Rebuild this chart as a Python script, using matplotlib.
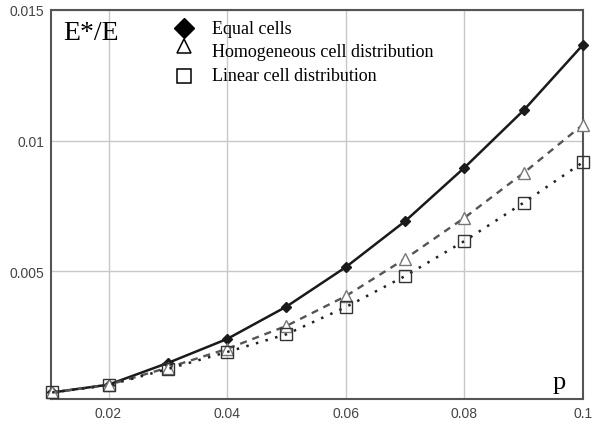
import matplotlib
matplotlib.use("Agg")
import matplotlib.pyplot as plt

p = [0.0105, 0.02, 0.03, 0.04, 0.05, 0.06, 0.07, 0.08, 0.09, 0.1]
equal_cells = [0.00035, 0.00065, 0.00148, 0.0024, 0.00364, 0.00515, 0.00691, 0.00896, 0.01116, 0.01367]
homogeneous = [0.00035, 0.00064, 0.0013, 0.00202, 0.0029, 0.00404, 0.00547, 0.00704, 0.00876, 0.01061]
linear = [0.00035, 0.00063, 0.00125, 0.0019, 0.00258, 0.00362, 0.00481, 0.00615, 0.00762, 0.00917]

xticks = [0.02, 0.04, 0.06, 0.08, 0.1]
xtick_labels = ["0.02", "0.04", "0.06", "0.08", "0.1"]
yticks = [0.005, 0.01, 0.015]
ytick_labels = ["0.005", "0.01", "0.015"]
legend_labels = ["Equal cells", "Homogeneous cell distribution", "Linear cell distribution"]

fig = plt.figure(figsize=(5.92, 4.27), dpi=100)
ax = fig.add_axes([51/592, 27/427, 532/592, 389/427])

ax.plot(p, equal_cells, color="#1a1a1a", lw=1.8, ls="-", marker="D", ms=5.5,
        mfc="#1a1a1a", mec="#1a1a1a", clip_on=False, zorder=3)
ax.plot(p, homogeneous, color="#555555", lw=1.7, ls=(0, (3, 2.5)), marker="^", ms=8,
        mfc="white", mec="#777777", mew=1.0, clip_on=False, zorder=3)
ax.plot(p, linear, color="#222222", lw=1.8, ls=(0, (1, 3)), marker="s", ms=8,
        mfc="none", mec="#333333", mew=1.0, clip_on=False, zorder=3)

ax.set_xlim(0.0103, 0.1)
ax.set_ylim(0.0001, 0.015)
ax.set_xticks(xticks)
ax.set_xticklabels(xtick_labels)
ax.set_yticks(yticks)
ax.set_yticklabels(ytick_labels)
ax.grid(True, color="#c8c8c8", lw=1.0)
ax.set_axisbelow(True)
ax.tick_params(length=0, pad=5, colors="#444444")
for lab in ax.get_xticklabels() + ax.get_yticklabels():
    lab.set_family(["Liberation Sans", "DejaVu Sans"])
    lab.set_fontsize(10)
    lab.set_color("#444444")
for s in ax.spines.values():
    s.set_color("#555555")
    s.set_linewidth(1.5)

serif = ["Liberation Serif", "DejaVu Serif"]
ax.text(0.0226, 0.925, "E*/E", transform=ax.transAxes, fontsize=20, family=serif,
        ha="left", va="baseline")
ax.text(0.955, 0.028, "p", transform=ax.transAxes, fontsize=19, family=serif,
        ha="center", va="baseline")

# legend
mx = 0.25
ax.plot([mx], [0.9537], transform=ax.transAxes, marker="D", ms=10, color="black",
        ls="none", clip_on=False)
ax.plot([mx], [0.9075], transform=ax.transAxes, marker="^", ms=10, mfc="white",
        mec="black", mew=1.1, ls="none", clip_on=False)
ax.plot([mx], [0.830], transform=ax.transAxes, marker="s", ms=10, mfc="white",
        mec="black", mew=1.1, ls="none", clip_on=False)
tx = 0.3026
for yy, lab in zip([0.941, 0.8817, 0.820], legend_labels):
    ax.text(tx, yy, lab, transform=ax.transAxes, fontsize=13, family=serif,
            ha="left", va="baseline")

fig.savefig("out.png", dpi=100)
